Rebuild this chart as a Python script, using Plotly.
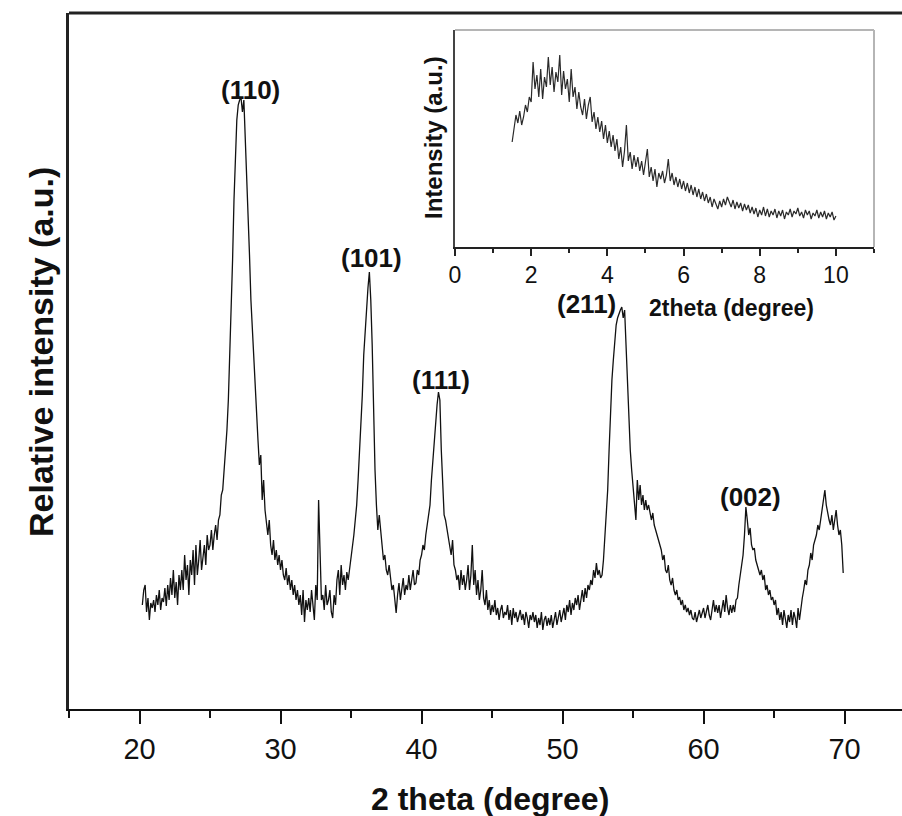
import numpy as np
import plotly.graph_objects as go

# ---------------- data ----------------
# main XRD pattern: 2theta from 20.2 to 69.9 deg, 0.1 deg steps
main_start, main_step = 20.2, 0.1
main_intensity = [
    104, 119, 124, 97, 111, 89, 106, 101,
    109, 97, 114, 104, 119, 99, 111, 107, 121, 103,
    124, 109, 131, 114, 139, 111, 127, 104, 134, 119,
    139, 119, 154, 129, 144, 114, 149, 134, 159, 124,
    164, 134, 149, 169, 139, 154, 164, 144, 174, 159,
    164, 179, 159, 174, 184, 169, 189, 194, 214, 219,
    239, 254, 279, 309, 349, 389, 449, 509, 559, 589,
    604, 609, 611, 597, 609, 574, 539, 499, 454, 409,
    379, 344, 314, 289, 269, 244, 254, 209, 229, 199,
    184, 174, 189, 164, 154, 169, 149, 159, 144, 154,
    139, 149, 134, 129, 141, 124, 134, 119, 129, 114,
    124, 109, 119, 104, 114, 94, 119, 87, 109, 99,
    111, 97, 119, 104, 89, 124, 109, 209, 149, 109,
    114, 99, 124, 104, 109, 119, 97, 91, 114, 104,
    129, 139, 114, 144, 124, 134, 119, 137, 129, 139,
    149, 161, 174, 189, 204, 229, 254, 279, 314, 354,
    379, 404, 421, 437, 409, 364, 289, 239, 204, 179,
    194, 174, 164, 149, 154, 139, 134, 144, 129, 119,
    124, 109, 96, 114, 126, 109, 119, 131, 114, 124,
    119, 134, 119, 129, 139, 124, 126, 139, 134, 149,
    154, 164, 159, 174, 184, 194, 204, 229, 249, 269,
    289, 304, 317, 309, 259, 219, 194, 189, 179, 174,
    164, 154, 169, 144, 139, 129, 134, 119, 139, 124,
    134, 119, 129, 144, 119, 134, 164, 124, 139, 114,
    129, 109, 119, 139, 111, 104, 119, 99, 109, 94,
    104, 97, 109, 94, 101, 89, 99, 104, 91, 97,
    94, 104, 89, 99, 84, 101, 91, 97, 87, 94,
    99, 89, 95, 84, 97, 91, 81, 94, 89, 97,
    87, 94, 81, 91, 84, 97, 79, 89, 93, 83,
    91, 84, 94, 81, 89, 97, 84, 91, 99, 87,
    94, 101, 89, 104, 97, 109, 94, 106, 99, 111,
    104, 114, 99, 111, 119, 107, 121, 111, 124, 119,
    129, 124, 139, 131, 146, 134, 139, 131, 134, 149,
    169, 194, 219, 259, 299, 329, 349, 369, 384, 391,
    396, 399, 402, 391, 399, 362, 329, 294, 259, 239,
    219, 204, 189, 229, 209, 224, 204, 214, 199, 209,
    199, 204, 194, 189, 196, 184, 179, 174, 169, 164,
    159, 149, 154, 139, 136, 144, 129, 124, 131, 119,
    114, 119, 109, 112, 104, 109, 99, 104, 97, 101,
    94, 99, 91, 89, 97, 87, 94, 99, 91, 97,
    101, 91, 97, 104, 94, 89, 99, 109, 97, 104,
    96, 104, 91, 99, 109, 97, 114, 101, 94, 104,
    96, 104, 97, 109, 111, 124, 134, 144, 154, 174,
    202, 189, 174, 181, 164, 159, 161, 149, 144, 139,
    134, 139, 129, 134, 119, 124, 114, 119, 109, 112,
    104, 109, 94, 101, 89, 97, 84, 99, 91, 81,
    94, 87, 99, 84, 97, 91, 81, 101, 89, 104,
    111, 119, 129, 124, 139, 144, 156, 149, 164, 169,
    174, 184, 179, 189, 199, 209, 219, 204, 194, 189,
    184, 194, 179, 189, 199, 184, 174, 179, 164, 136,
]

# inset low-angle pattern: 2theta from 1.5 to 10.0 deg, 0.05 deg steps
inset_start, inset_step = 1.5, 0.05
inset_intensity = [
    105, 118, 132, 124, 136, 122, 130, 142, 135, 150,
    145, 185, 158, 172, 150, 178, 148, 170, 160, 190,
    162, 180, 155, 175, 165, 192, 152, 176, 158, 168,
    145, 178, 150, 160, 138, 155, 140, 132, 148, 128,
    142, 150, 125, 135, 118, 130, 115, 126, 108, 122,
    104, 116, 100, 112, 96, 108, 88, 100, 80, 96,
    122, 86, 95, 78, 92, 80, 90, 76, 86, 72,
    84, 98, 70, 80, 66, 78, 60, 74, 68, 76,
    64, 72, 88, 66, 74, 62, 70, 60, 68, 58,
    66, 56, 64, 54, 62, 52, 60, 50, 58, 48,
    55, 46, 53, 44, 50, 40, 48, 42, 38, 46,
    40, 48, 42, 50, 44, 40, 47, 38, 45, 39,
    44, 36, 43, 37, 42, 34, 40, 33, 39, 30,
    37, 32, 40, 31, 38, 30, 36, 32, 38, 29,
    36, 31, 37, 28, 35, 32, 38, 30, 36, 33,
    39, 31, 35, 29, 37, 32, 36, 28, 34, 31,
    37, 29, 35, 30, 36, 28, 34, 30, 35, 27,
    31,
]

peak_labels = ["(110)", "(101)", "(111)", "(211)", "(002)"]
peak_label_2theta = [27.87, 36.45, 41.35, 51.70, 63.33]
peak_label_height = [619, 451, 329, 405, 212]

main_ticks = [20, 30, 40, 50, 60, 70]
inset_ticks = [0, 2, 4, 6, 8, 10]

# ---------------- figure ----------------
main_x = np.round(main_start + main_step * np.arange(len(main_intensity)), 3)
inset_x = np.round(inset_start + inset_step * np.arange(len(inset_intensity)), 3)

FONT = "Liberation Sans, Arial, Helvetica, sans-serif"

fig = go.Figure()
fig.add_trace(go.Scatter(x=main_x, y=main_intensity, mode="lines",
                         line=dict(color="#111111", width=1.3),
                         xaxis="x", yaxis="y", showlegend=False))
fig.add_trace(go.Scatter(x=inset_x, y=inset_intensity, mode="lines",
                         line=dict(color="#2a2a2a", width=1.2),
                         xaxis="x2", yaxis="y2", showlegend=False))

W, H = 902, 816
ml, mr, mt, mb = 69, 0, 13, 107
pw, ph = W - ml - mr, H - mt - mb


def px_x(p):
    return (p - ml) / pw


def px_y(p):
    return (H - mb - p) / ph


fig.update_layout(
    width=W, height=H,
    margin=dict(l=ml, r=mr, t=mt, b=mb, pad=0),
    paper_bgcolor="white", plot_bgcolor="white",
    font=dict(family=FONT, color="#111111"),
    xaxis=dict(
        domain=[0, 1], range=[15, 74.07], anchor="y",
        tickmode="array", tickvals=main_ticks,
        ticks="outside", ticklen=13, tickwidth=2, tickcolor="#111111",
        minor=dict(tickmode="linear", tick0=15, dtick=5, ticks="outside",
                   ticklen=7, tickwidth=2, tickcolor="#111111"),
        showline=True, linecolor="#111111", linewidth=2,
        showgrid=False, zeroline=False,
        tickfont=dict(size=29, family=FONT, color="#111111"),
    ),
    yaxis=dict(
        domain=[0, 1], range=[0, 696], anchor="x",
        showticklabels=False, ticks="",
        showline=True, linecolor="#222222", linewidth=2.5,
        showgrid=False, zeroline=False,
    ),
    xaxis2=dict(
        domain=[px_x(455), px_x(874)], range=[0, 11], anchor="y2",
        tickmode="array", tickvals=inset_ticks,
        ticks="outside", ticklen=7, tickwidth=1.5, tickcolor="#222222",
        minor=dict(tickmode="linear", tick0=1, dtick=1, ticks="outside",
                   ticklen=4, tickwidth=1.5, tickcolor="#222222"),
        showline=True, linecolor="#222222", linewidth=1.5,
        showgrid=False, zeroline=False,
        tickfont=dict(size=23, family=FONT, color="#111111"),
    ),
    yaxis2=dict(
        domain=[px_y(247), px_y(30)], range=[0, 217], anchor="x2",
        showticklabels=False, ticks="",
        showline=True, linecolor="#444444", linewidth=1.5,
        showgrid=False, zeroline=False,
    ),
)

# frame lines: thick top line of main plot, light-gray top/right of inset
fig.add_shape(type="line", xref="paper", yref="paper", x0=0, x1=1, y0=1, y1=1,
              line=dict(color="#222222", width=3))
fig.add_shape(type="line", xref="paper", yref="paper",
              x0=px_x(455), x1=px_x(874), y0=px_y(30), y1=px_y(30),
              line=dict(color="#b5b5b5", width=2))
fig.add_shape(type="line", xref="paper", yref="paper",
              x0=px_x(874), x1=px_x(874), y0=px_y(247), y1=px_y(30),
              line=dict(color="#b5b5b5", width=2))

# peak labels
for lab, xx, yy in zip(peak_labels, peak_label_2theta, peak_label_height):
    fig.add_annotation(x=xx, y=yy, xref="x", yref="y", text=f"<b>{lab}</b>",
                       showarrow=False, xanchor="center", yanchor="middle",
                       font=dict(size=26, family=FONT, color="#111111"))

# axis titles
fig.add_annotation(x=px_x(490), y=px_y(799), xref="paper", yref="paper",
                   text="<b>2 theta (degree)</b>", showarrow=False,
                   xanchor="center", yanchor="middle",
                   font=dict(size=32, family=FONT, color="#111111"))
fig.add_annotation(x=px_x(41), y=px_y(352), xref="paper", yref="paper",
                   text="<b>Relative intensity (a.u.)</b>", showarrow=False,
                   textangle=-90, xanchor="center", yanchor="middle",
                   font=dict(size=34, family=FONT, color="#111111"))
fig.add_annotation(x=px_x(731), y=px_y(308), xref="paper", yref="paper",
                   text="<b>2theta (degree)</b>", showarrow=False,
                   xanchor="center", yanchor="middle",
                   font=dict(size=23, family=FONT, color="#111111"))
fig.add_annotation(x=px_x(433), y=px_y(138), xref="paper", yref="paper",
                   text="<b>Intensity (a.u.)</b>", showarrow=False,
                   textangle=-90, xanchor="center", yanchor="middle",
                   font=dict(size=24, family=FONT, color="#111111"))

fig.write_html("out.html")
